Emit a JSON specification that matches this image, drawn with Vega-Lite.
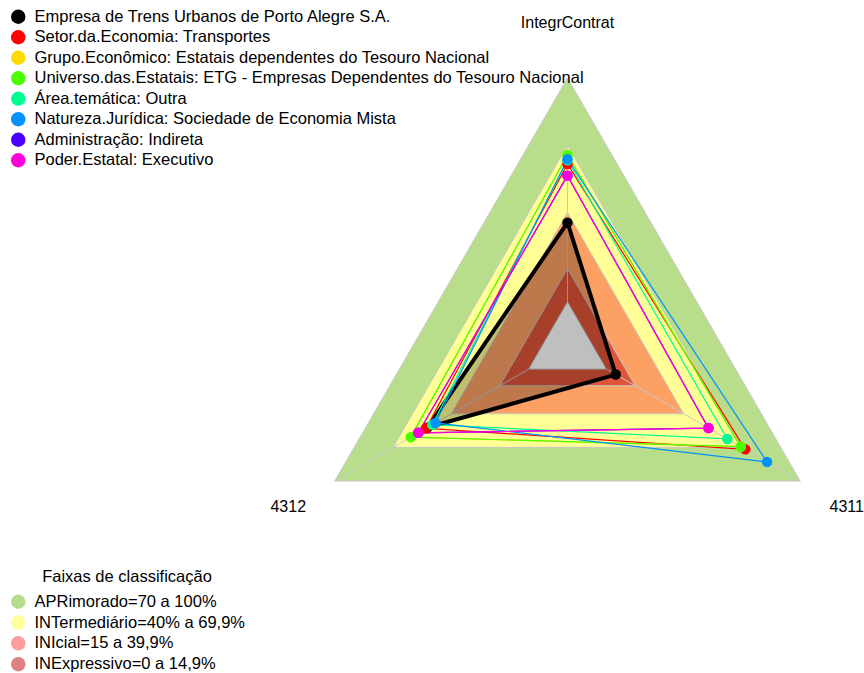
{
  "$schema": "https://vega.github.io/schema/vega-lite/v6.json",
  "width": 864,
  "height": 673,
  "autosize": {"type": "none"},
  "padding": 0,
  "background": "white",
  "config": {"view": {"stroke": null}, "font": "Liberation Sans"},
  "datasets": {
    "series": [
      {"serie": "Empresa de Trens Urbanos de Porto Alegre S.A.", "eixo": "IntegrContrat", "idx": 0, "valor": 0.354},
      {"serie": "Empresa de Trens Urbanos de Porto Alegre S.A.", "eixo": "4312", "idx": 1, "valor": 0.522},
      {"serie": "Empresa de Trens Urbanos de Porto Alegre S.A.", "eixo": "4311", "idx": 2, "valor": 0.049},
      {"serie": "Setor.da.Economia: Transportes", "eixo": "IntegrContrat", "idx": 0, "valor": 0.616},
      {"serie": "Setor.da.Economia: Transportes", "eixo": "4312", "idx": 1, "valor": 0.529},
      {"serie": "Setor.da.Economia: Transportes", "eixo": "4311", "idx": 2, "valor": 0.717},
      {"serie": "Grupo.Econômico: Estatais dependentes do Tesouro Nacional", "eixo": "IntegrContrat", "idx": 0, "valor": 0.656},
      {"serie": "Grupo.Econômico: Estatais dependentes do Tesouro Nacional", "eixo": "4312", "idx": 1, "valor": 0.608},
      {"serie": "Grupo.Econômico: Estatais dependentes do Tesouro Nacional", "eixo": "4311", "idx": 2, "valor": 0.693},
      {"serie": "Universo.das.Estatais: ETG - Empresas Dependentes do Tesouro Nacional", "eixo": "IntegrContrat", "idx": 0, "valor": 0.656},
      {"serie": "Universo.das.Estatais: ETG - Empresas Dependentes do Tesouro Nacional", "eixo": "4312", "idx": 1, "valor": 0.608},
      {"serie": "Universo.das.Estatais: ETG - Empresas Dependentes do Tesouro Nacional", "eixo": "4311", "idx": 2, "valor": 0.693},
      {"serie": "Área.temática: Outra", "eixo": "IntegrContrat", "idx": 0, "valor": 0.632},
      {"serie": "Área.temática: Outra", "eixo": "4312", "idx": 1, "valor": 0.497},
      {"serie": "Área.temática: Outra", "eixo": "4311", "idx": 2, "valor": 0.624},
      {"serie": "Natureza.Jurídica: Sociedade de Economia Mista", "eixo": "IntegrContrat", "idx": 0, "valor": 0.637},
      {"serie": "Natureza.Jurídica: Sociedade de Economia Mista", "eixo": "4312", "idx": 1, "valor": 0.481},
      {"serie": "Natureza.Jurídica: Sociedade de Economia Mista", "eixo": "4311", "idx": 2, "valor": 0.829},
      {"serie": "Administração: Indireta", "eixo": "IntegrContrat", "idx": 0, "valor": 0.564},
      {"serie": "Administração: Indireta", "eixo": "4312", "idx": 1, "valor": 0.569},
      {"serie": "Administração: Indireta", "eixo": "4311", "idx": 2, "valor": 0.527},
      {"serie": "Poder.Estatal: Executivo", "eixo": "IntegrContrat", "idx": 0, "valor": 0.564},
      {"serie": "Poder.Estatal: Executivo", "eixo": "4312", "idx": 1, "valor": 0.569},
      {"serie": "Poder.Estatal: Executivo", "eixo": "4311", "idx": 2, "valor": 0.527}
    ],
    "faixas": [
      {"faixa": "APRimorado=70 a 100%", "idx": 0, "nivel": 1.0},
      {"faixa": "APRimorado=70 a 100%", "idx": 1, "nivel": 1.0},
      {"faixa": "APRimorado=70 a 100%", "idx": 2, "nivel": 1.0},
      {"faixa": "INTermediário=40% a 69,9%", "idx": 0, "nivel": 0.699},
      {"faixa": "INTermediário=40% a 69,9%", "idx": 1, "nivel": 0.699},
      {"faixa": "INTermediário=40% a 69,9%", "idx": 2, "nivel": 0.699},
      {"faixa": "INIcial=15 a 39,9%", "idx": 0, "nivel": 0.399},
      {"faixa": "INIcial=15 a 39,9%", "idx": 1, "nivel": 0.399},
      {"faixa": "INIcial=15 a 39,9%", "idx": 2, "nivel": 0.399},
      {"faixa": "INExpressivo=0 a 14,9%", "idx": 0, "nivel": 0.149},
      {"faixa": "INExpressivo=0 a 14,9%", "idx": 1, "nivel": 0.149},
      {"faixa": "INExpressivo=0 a 14,9%", "idx": 2, "nivel": 0.149},
      {"faixa": "centro", "idx": 0, "nivel": 0.0},
      {"faixa": "centro", "idx": 1, "nivel": 0.0},
      {"faixa": "centro", "idx": 2, "nivel": 0.0}
    ],
    "eixos": [
      {"eixo": "IntegrContrat", "idx": 0},
      {"eixo": "4312", "idx": 1},
      {"eixo": "4311", "idx": 2}
    ]
  },
  "layer": [
    {
      "data": {"name": "faixas"},
      "transform": [
        {"filter": "datum.faixa != 'centro' && datum.idx == 0"},
        {"calculate": "0", "as": "x"},
        {"calculate": "0", "as": "y"}
      ],
      "mark": {"type": "circle", "size": 0, "opacity": 1},
      "encoding": {
        "x": {"field": "x", "type": "quantitative", "scale": {"domain": [-2.112, 1.1035], "nice": false, "zero": false}, "axis": null},
        "y": {"field": "y", "type": "quantitative", "scale": {"domain": [-1.2144, 1.2903], "nice": false, "zero": false}, "axis": null},
        "fill": {
          "field": "faixa", "type": "nominal",
          "scale": {
            "domain": ["APRimorado=70 a 100%", "INTermediário=40% a 69,9%", "INIcial=15 a 39,9%", "INExpressivo=0 a 14,9%"],
            "range": ["#B5DC8C", "#FFFF9C", "#FF9C9C", "#DE8282"]
          },
          "legend": {
            "orient": "none", "legendX": 10, "legendY": 569,
            "title": "Faixas de classificação", "titleFontSize": 16.5, "titleFontWeight": "normal",
            "titleFont": "Liberation Sans", "titleColor": "black", "titleAnchor": "middle", "titlePadding": 8,
            "symbolType": "circle", "symbolSize": 210, "symbolStrokeWidth": 0, "symbolOpacity": 1,
            "labelFontSize": 16.5, "labelFont": "Liberation Sans", "labelColor": "black", "labelLimit": 700,
            "labelOffset": 8, "rowPadding": 3.8, "padding": 0
          }
        }
      }
    },
    {
      "data": {"name": "faixas"},
      "transform": [
        {"calculate": "PI/2 + datum.idx*2*PI/3", "as": "ang"},
        {"calculate": "(1/6 + datum.nivel*5/6)*cos(datum.ang)", "as": "x"},
        {"calculate": "(1/6 + datum.nivel*5/6)*sin(datum.ang)", "as": "y"}
      ],
      "mark": {"type": "line", "interpolate": "linear-closed", "stroke": "#C8C8C8", "strokeWidth": 1},
      "encoding": {
        "x": {"field": "x", "type": "quantitative", "scale": {"domain": [-2.112, 1.1035], "nice": false, "zero": false}, "axis": null},
        "y": {"field": "y", "type": "quantitative", "scale": {"domain": [-1.2144, 1.2903], "nice": false, "zero": false}, "axis": null},
        "order": {"field": "idx", "type": "quantitative"},
        "detail": {"field": "faixa", "type": "nominal"},
        "fill": {
          "field": "faixa", "type": "nominal",
          "scale": {
            "domain": ["APRimorado=70 a 100%", "INTermediário=40% a 69,9%", "INIcial=15 a 39,9%", "INExpressivo=0 a 14,9%", "centro"],
            "range": ["#B8DE8C", "#FFFF96", "#FCA064", "#E05538", "#FFFFFF"]
          },
          "legend": null
        }
      }
    },
    {
      "data": {"name": "eixos"},
      "transform": [
        {"calculate": "PI/2 + datum.idx*2*PI/3", "as": "ang"},
        {"calculate": "(1/6)*cos(datum.ang)", "as": "x0"},
        {"calculate": "(1/6)*sin(datum.ang)", "as": "y0"},
        {"calculate": "cos(datum.ang)", "as": "x1"},
        {"calculate": "sin(datum.ang)", "as": "y1"}
      ],
      "mark": {"type": "rule", "stroke": "#C8C8C8", "strokeWidth": 1},
      "encoding": {
        "x": {"field": "x0", "type": "quantitative", "scale": {"domain": [-2.112, 1.1035], "nice": false, "zero": false}, "axis": null},
        "y": {"field": "y0", "type": "quantitative", "scale": {"domain": [-1.2144, 1.2903], "nice": false, "zero": false}, "axis": null},
        "x2": {"field": "x1"},
        "y2": {"field": "y1"}
      }
    },
    {
      "data": {"name": "series"},
      "transform": [
        {"filter": "datum.serie == 'Empresa de Trens Urbanos de Porto Alegre S.A.'"},
        {"calculate": "PI/2 + datum.idx*2*PI/3", "as": "ang"},
        {"calculate": "(1/6 + datum.valor*5/6)*cos(datum.ang)", "as": "x"},
        {"calculate": "(1/6 + datum.valor*5/6)*sin(datum.ang)", "as": "y"}
      ],
      "mark": {"type": "line", "interpolate": "linear-closed", "fill": "#000000", "fillOpacity": 0.25, "strokeWidth": 4, "strokeJoin": "round"},
      "encoding": {
        "x": {"field": "x", "type": "quantitative", "scale": {"domain": [-2.112, 1.1035], "nice": false, "zero": false}, "axis": null},
        "y": {"field": "y", "type": "quantitative", "scale": {"domain": [-1.2144, 1.2903], "nice": false, "zero": false}, "axis": null},
        "order": {"field": "idx", "type": "quantitative"},
        "color": {"field": "serie", "type": "nominal"}
      }
    },
    {
      "data": {"name": "series"},
      "transform": [
        {"filter": "datum.serie != 'Empresa de Trens Urbanos de Porto Alegre S.A.'"},
        {"calculate": "PI/2 + datum.idx*2*PI/3", "as": "ang"},
        {"calculate": "(1/6 + datum.valor*5/6)*cos(datum.ang)", "as": "x"},
        {"calculate": "(1/6 + datum.valor*5/6)*sin(datum.ang)", "as": "y"}
      ],
      "mark": {"type": "line", "interpolate": "linear-closed", "strokeWidth": 1.2},
      "encoding": {
        "x": {"field": "x", "type": "quantitative", "scale": {"domain": [-2.112, 1.1035], "nice": false, "zero": false}, "axis": null},
        "y": {"field": "y", "type": "quantitative", "scale": {"domain": [-1.2144, 1.2903], "nice": false, "zero": false}, "axis": null},
        "order": {"field": "idx", "type": "quantitative"},
        "color": {"field": "serie", "type": "nominal"}
      }
    },
    {
      "data": {"name": "series"},
      "transform": [
        {"calculate": "PI/2 + datum.idx*2*PI/3", "as": "ang"},
        {"calculate": "(1/6 + datum.valor*5/6)*cos(datum.ang)", "as": "x"},
        {"calculate": "(1/6 + datum.valor*5/6)*sin(datum.ang)", "as": "y"}
      ],
      "mark": {"type": "circle", "size": 110, "opacity": 1},
      "encoding": {
        "x": {"field": "x", "type": "quantitative", "scale": {"domain": [-2.112, 1.1035], "nice": false, "zero": false}, "axis": null},
        "y": {"field": "y", "type": "quantitative", "scale": {"domain": [-1.2144, 1.2903], "nice": false, "zero": false}, "axis": null},
        "color": {
          "field": "serie", "type": "nominal",
          "scale": {
            "domain": [
              "Empresa de Trens Urbanos de Porto Alegre S.A.",
              "Setor.da.Economia: Transportes",
              "Grupo.Econômico: Estatais dependentes do Tesouro Nacional",
              "Universo.das.Estatais: ETG - Empresas Dependentes do Tesouro Nacional",
              "Área.temática: Outra",
              "Natureza.Jurídica: Sociedade de Economia Mista",
              "Administração: Indireta",
              "Poder.Estatal: Executivo"
            ],
            "range": ["#000000", "#FF0000", "#FFDB00", "#49FF00", "#00FF92", "#0092FF", "#4900FF", "#FF00DB"]
          },
          "legend": {
            "orient": "none", "legendX": 10, "legendY": 8.5, "title": null,
            "symbolType": "circle", "symbolSize": 210, "symbolStrokeWidth": 0, "symbolOpacity": 1,
            "labelFontSize": 16.5, "labelFont": "Liberation Sans", "labelColor": "black", "labelLimit": 700,
            "labelOffset": 8, "rowPadding": 3.5, "padding": 0
          }
        }
      }
    },
    {
      "data": {"name": "eixos"},
      "transform": [
        {"calculate": "PI/2 + datum.idx*2*PI/3", "as": "ang"},
        {"calculate": "1.2*cos(datum.ang)", "as": "x"},
        {"calculate": "1.2*sin(datum.ang)", "as": "y"}
      ],
      "mark": {"type": "text", "fontSize": 16, "font": "Liberation Sans", "color": "black", "align": "center", "baseline": "middle", "dy": -1},
      "encoding": {
        "x": {"field": "x", "type": "quantitative", "scale": {"domain": [-2.112, 1.1035], "nice": false, "zero": false}, "axis": null},
        "y": {"field": "y", "type": "quantitative", "scale": {"domain": [-1.2144, 1.2903], "nice": false, "zero": false}, "axis": null},
        "text": {"field": "eixo", "type": "nominal"}
      }
    }
  ],
  "resolve": {"scale": {"fill": "independent"}}
}
